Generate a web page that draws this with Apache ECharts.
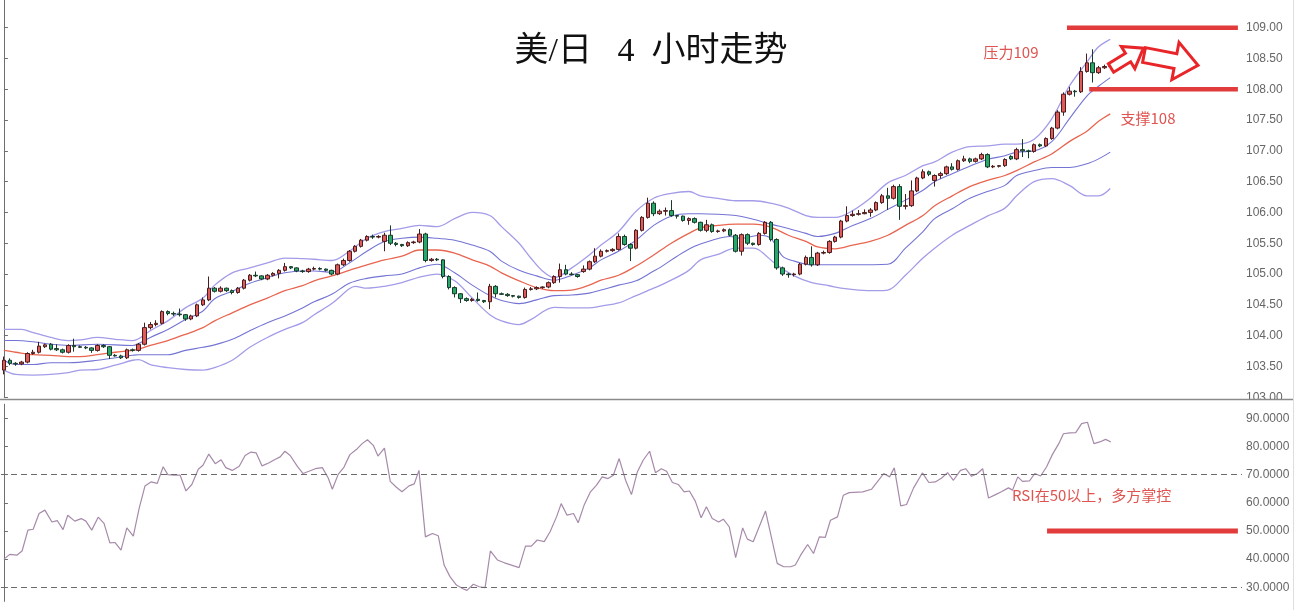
<!DOCTYPE html>
<html><head><meta charset="utf-8">
<script src="https://cdn.jsdelivr.net/npm/echarts@6/dist/echarts.min.js"></script>
<style>html,body{margin:0;padding:0;background:#fff}#c{width:1309px;height:610px}</style>
</head><body><div id="c"></div>
<script>
// ---------- data ----------
const SLOTS = 212;
const categories = Array.from({length: SLOTS}, (_, i) => 'K' + i);

const opens = [103.44,103.60,103.55,103.54,103.57,103.71,103.73,103.82,103.86,103.79,
103.77,103.73,103.84,103.82,103.81,103.80,103.76,103.84,103.82,103.68,
103.67,103.64,103.77,103.76,103.86,104.13,104.18,104.20,104.39,104.36,
104.35,104.34,104.27,104.32,104.50,104.58,104.77,104.72,104.77,104.73,
104.70,104.77,104.90,104.98,104.97,104.92,104.98,105.01,105.06,105.12,
105.10,105.05,105.04,105.08,105.09,105.08,105.06,105.00,105.15,105.22,
105.37,105.45,105.55,105.61,105.60,105.53,105.63,105.50,105.48,105.46,
105.51,105.52,105.65,105.22,105.24,105.23,104.96,104.78,104.68,104.60,
104.57,104.59,104.57,104.55,104.80,104.68,104.67,104.65,104.64,104.62,
104.75,104.76,104.78,104.79,104.86,104.96,105.07,105.00,104.99,105.04,
105.08,105.20,105.29,105.37,105.38,105.40,105.61,105.48,105.42,105.71,
105.92,106.15,105.98,106.02,106.03,105.95,105.94,105.87,105.90,105.84,
105.71,105.80,105.69,105.70,105.72,105.63,105.37,105.64,105.50,105.48,
105.66,105.84,105.56,105.10,105.00,104.99,105.00,105.16,105.27,105.15,
105.34,105.35,105.53,105.60,105.86,105.95,105.97,105.98,106.00,106.04,
106.16,106.27,106.23,106.42,106.10,106.11,106.35,106.56,106.66,106.52,
106.60,106.63,106.74,106.70,106.84,106.87,106.83,106.87,106.94,106.74,
106.75,106.76,106.91,106.87,107.02,107.00,106.99,107.10,107.08,107.20,
107.37,107.63,107.92,107.97,107.96,108.29,108.43,108.27,108.35,108.37];

const closes = [103.60,103.55,103.54,103.57,103.71,103.73,103.83,103.85,103.78,103.77,
103.73,103.84,103.82,103.81,103.80,103.76,103.84,103.82,103.68,103.67,
103.64,103.77,103.76,103.86,104.13,104.18,104.20,104.39,104.36,104.35,
104.34,104.27,104.32,104.50,104.58,104.77,104.72,104.77,104.73,104.70,
104.77,104.90,104.98,104.97,104.92,104.98,105.01,105.06,105.12,105.10,
105.05,105.04,105.08,105.09,105.08,105.06,105.00,105.15,105.22,105.37,
105.45,105.55,105.61,105.60,105.61,105.63,105.50,105.48,105.46,105.51,
105.52,105.65,105.22,105.24,105.23,104.96,104.78,104.68,104.60,104.57,
104.59,104.57,104.55,104.80,104.68,104.67,104.65,104.64,104.62,104.75,
104.76,104.78,104.79,104.86,104.96,105.07,105.00,104.99,104.96,105.08,
105.20,105.29,105.37,105.38,105.40,105.61,105.48,105.42,105.71,105.92,
106.15,105.98,106.02,106.03,105.95,105.94,105.87,105.90,105.84,105.71,
105.80,105.69,105.70,105.72,105.63,105.37,105.64,105.50,105.48,105.66,
105.84,105.56,105.10,105.00,104.99,105.00,105.16,105.27,105.15,105.34,
105.35,105.53,105.60,105.86,105.95,105.97,105.98,106.00,106.04,106.16,
106.27,106.23,106.42,106.10,106.11,106.35,106.56,106.66,106.62,106.60,
106.63,106.74,106.70,106.84,106.87,106.83,106.87,106.94,106.74,106.75,
106.76,106.86,106.87,107.02,107.00,106.99,107.10,107.08,107.20,107.37,
107.63,107.92,107.97,107.96,108.29,108.43,108.27,108.35,108.37,108.42];

const highs = [103.66,103.63,103.57,103.59,103.73,103.77,103.90,103.87,103.88,103.86,
103.79,103.86,103.95,103.84,103.83,103.81,103.86,103.86,103.83,103.70,
103.69,103.79,103.79,103.88,104.21,104.22,104.25,104.41,104.41,104.39,
104.44,104.35,104.34,104.52,104.62,104.96,104.79,104.80,104.78,104.75,
104.79,104.92,105.00,105.04,104.98,105.00,105.03,105.08,105.18,105.13,
105.11,105.07,105.10,105.12,105.11,105.09,105.07,105.17,105.25,105.39,
105.47,105.57,105.63,105.64,105.63,105.67,105.79,105.52,105.49,105.53,
105.54,105.73,105.67,105.26,105.26,105.24,104.98,104.80,104.69,104.62,
104.61,104.70,104.58,104.84,104.82,104.70,104.69,104.66,104.65,104.78,
104.79,104.80,104.80,104.88,104.98,105.17,105.15,105.03,105.00,105.14,
105.22,105.42,105.40,105.40,105.42,105.66,105.64,105.50,105.73,105.94,
106.24,106.18,106.05,106.08,106.20,105.96,105.95,105.92,105.92,105.85,
105.88,105.82,105.72,105.74,105.74,105.65,105.66,105.66,105.51,105.68,
105.86,105.86,105.58,105.12,105.02,105.02,105.18,105.30,105.45,105.36,
105.38,105.55,105.62,105.88,106.10,106.03,106.04,106.05,106.07,106.18,
106.30,106.40,106.45,106.46,106.30,106.52,106.58,106.70,106.68,106.62,
106.66,106.76,106.80,106.86,106.92,106.89,106.89,106.97,106.96,106.77,
106.77,106.88,106.93,107.05,107.19,107.02,107.12,107.12,107.22,107.39,
107.66,107.95,108.04,107.99,108.36,108.58,108.65,108.38,108.40,108.44];

const lows = [103.37,103.52,103.51,103.52,103.55,103.69,103.71,103.80,103.76,103.75,
103.71,103.71,103.74,103.80,103.78,103.72,103.74,103.80,103.62,103.66,
103.62,103.62,103.74,103.74,103.84,104.10,104.15,104.18,104.33,104.32,
104.31,104.24,104.25,104.30,104.48,104.56,104.70,104.70,104.71,104.67,
104.68,104.75,104.88,104.95,104.90,104.90,104.96,104.93,105.04,105.08,
105.03,105.02,105.02,105.06,105.06,105.04,104.98,104.98,105.13,105.20,
105.35,105.43,105.53,105.57,105.58,105.37,105.47,105.45,105.44,105.44,
105.49,105.50,105.19,105.20,105.21,104.93,104.75,104.62,104.53,104.55,
104.55,104.55,104.53,104.43,104.62,104.66,104.63,104.62,104.60,104.60,
104.73,104.74,104.76,104.77,104.84,104.86,104.98,104.98,104.94,105.02,
105.06,105.18,105.27,105.35,105.36,105.38,105.46,105.21,105.40,105.69,
105.90,105.94,105.96,105.95,105.93,105.90,105.85,105.80,105.82,105.69,
105.68,105.67,105.67,105.68,105.61,105.35,105.30,105.47,105.46,105.46,
105.64,105.53,105.07,104.97,104.94,104.96,104.98,105.14,105.12,105.13,
105.32,105.33,105.51,105.58,105.84,105.93,105.95,105.97,105.93,106.02,
106.14,106.04,106.21,105.88,106.05,106.09,106.33,106.54,106.59,106.42,
106.55,106.61,106.68,106.68,106.82,106.80,106.81,106.85,106.72,106.72,
106.73,106.74,106.85,106.85,106.90,106.88,106.97,107.06,107.06,107.18,
107.35,107.57,107.90,107.88,107.94,108.27,108.11,108.25,108.33,108.35];

// Bollinger-style bands: [candle index, price]
const bandUpperOuter = [[0,104.10],[3,104.10],[5,104.05],[8,103.97],[11,103.92],[13,103.93],[16,103.97],[19,103.94],[22,103.92],[23,103.95],[25,104.08],[28,104.24],[31,104.45],[34,104.61],[36,104.82],[39,105.02],[42,105.10],[45,105.18],[48,105.26],[51,105.25],[53,105.24],[56,105.22],[59,105.37],[62,105.58],[65,105.69],[68,105.74],[71,105.79],[74,105.77],[77,105.90],[80,106.00],[83,105.95],[85,105.77],[88,105.50],[90,105.26],[92,105.05],[94,104.94],[97,105.10],[100,105.31],[102,105.47],[105,105.69],[108,106.02],[111,106.23],[114,106.31],[117,106.34],[119,106.27],[122,106.23],[125,106.19],[128,106.19],[131,106.15],[134,106.07],[137,105.95],[139,105.92],[142,105.92],[145,106.03],[148,106.23],[151,106.48],[154,106.60],[157,106.76],[159,106.82],[162,106.98],[165,107.07],[168,107.08],[171,107.11],[173,107.11],[176,107.19],[179,107.52],[182,108.05],[185,108.44],[187,108.69],[189,108.81]];
const bandUpperInner = [[0,103.92],[2,103.92],[5,103.90],[8,103.86],[11,103.84],[16,103.86],[22,103.84],[23,103.87],[25,103.97],[28,104.10],[31,104.26],[34,104.40],[36,104.60],[39,104.72],[42,104.85],[45,104.94],[48,105.02],[51,105.05],[53,105.05],[56,105.03],[59,105.18],[62,105.37],[65,105.53],[68,105.58],[71,105.60],[74,105.58],[77,105.55],[80,105.47],[83,105.37],[85,105.21],[88,105.06],[91,104.97],[94,104.90],[97,104.98],[100,105.10],[102,105.23],[105,105.37],[108,105.55],[111,105.79],[114,105.94],[117,105.98],[119,105.98],[122,105.97],[125,105.95],[128,105.89],[131,105.81],[134,105.74],[137,105.66],[139,105.61],[142,105.66],[145,105.79],[148,105.90],[151,106.05],[154,106.20],[157,106.36],[159,106.50],[162,106.63],[165,106.75],[168,106.86],[171,106.92],[173,106.98],[176,107.00],[179,107.15],[182,107.52],[185,107.89],[187,108.05],[189,108.19]];
const bandMiddle = [[0,103.76],[2,103.73],[5,103.69],[8,103.68],[11,103.66],[13,103.66],[16,103.69],[19,103.73],[22,103.76],[23,103.78],[25,103.84],[28,103.92],[31,104.02],[34,104.13],[36,104.24],[39,104.37],[42,104.50],[45,104.61],[48,104.73],[51,104.81],[53,104.89],[56,104.97],[59,105.06],[62,105.15],[65,105.23],[68,105.29],[71,105.39],[74,105.39],[77,105.34],[80,105.23],[83,105.13],[85,105.02],[88,104.89],[91,104.78],[94,104.73],[97,104.74],[100,104.82],[102,104.90],[105,104.98],[108,105.13],[111,105.31],[114,105.50],[117,105.66],[119,105.75],[122,105.79],[125,105.81],[128,105.81],[131,105.76],[134,105.63],[137,105.53],[139,105.44],[142,105.41],[145,105.47],[148,105.53],[151,105.63],[154,105.79],[157,105.95],[159,106.11],[162,106.27],[165,106.42],[168,106.52],[171,106.60],[173,106.68],[176,106.82],[179,106.95],[182,107.15],[185,107.32],[187,107.48],[189,107.60]];
const bandLowerInner = [[0,103.60],[2,103.53],[5,103.53],[8,103.56],[11,103.56],[16,103.60],[22,103.68],[23,103.69],[25,103.69],[28,103.69],[31,103.76],[34,103.81],[36,103.85],[39,103.94],[42,104.08],[45,104.21],[48,104.32],[51,104.45],[53,104.55],[56,104.67],[59,104.85],[62,104.93],[65,104.97],[68,105.00],[71,105.10],[74,105.16],[77,105.02],[80,104.82],[83,104.65],[85,104.57],[88,104.52],[91,104.58],[94,104.65],[97,104.66],[100,104.69],[102,104.74],[105,104.82],[108,104.89],[111,105.05],[112,105.10],[115,105.29],[118,105.45],[121,105.55],[124,105.61],[126,105.58],[129,105.63],[131,105.58],[133,105.29],[135,105.21],[138,105.15],[141,105.15],[145,105.15],[151,105.16],[154,105.42],[157,105.69],[159,105.90],[162,106.06],[165,106.23],[168,106.34],[171,106.44],[173,106.60],[176,106.68],[179,106.73],[182,106.73],[185,106.79],[187,106.87],[189,106.98]];
const bandLowerOuter = [[0,103.44],[2,103.37],[5,103.36],[8,103.37],[11,103.40],[13,103.44],[16,103.45],[19,103.52],[22,103.60],[23,103.61],[25,103.53],[28,103.48],[31,103.45],[34,103.44],[36,103.48],[39,103.60],[42,103.81],[45,103.97],[48,104.10],[51,104.21],[53,104.34],[56,104.52],[59,104.76],[60,104.80],[62,104.77],[65,104.80],[68,104.86],[71,104.95],[74,105.00],[77,104.89],[80,104.61],[83,104.34],[85,104.24],[88,104.18],[90,104.26],[94,104.46],[97,104.45],[100,104.45],[102,104.48],[105,104.53],[108,104.65],[111,104.77],[114,104.90],[117,105.06],[119,105.23],[122,105.32],[125,105.42],[128,105.42],[129,105.39],[132,105.15],[135,104.97],[138,104.86],[141,104.81],[143,104.77],[146,104.74],[149,104.73],[151,104.74],[154,104.98],[157,105.26],[159,105.42],[162,105.63],[165,105.79],[168,105.94],[171,106.07],[173,106.27],[176,106.50],[179,106.55],[182,106.44],[185,106.27],[187,106.27],[189,106.39]];

// RSI: [candle index, value]
const rsiPoints = [[0,40],[1.0,41.7],[2.2,41.4],[3.1,42.9],[4.1,50.3],[5.0,50.6],[6.0,56.2],[7.0,57.4],[8.2,53.2],[9.1,53.7],[10.1,50.5],[10.9,55.6],[12.1,53.5],[13.2,54.4],[14.0,53.5],[15.0,50.3],[16.1,54.9],[17.1,52.7],[18.1,45.8],[19.0,45.9],[20.0,43.2],[21.0,51.1],[22.1,48.2],[23.1,58.0],[24.1,66.0],[25.1,67.4],[26.2,66.9],[27.2,72.8],[28.0,70.0],[29.1,69.8],[30.1,69.8],[31.1,64.2],[32.1,66.5],[33.2,71.9],[34.0,73.3],[35.0,77.3],[36.1,73.9],[37.1,75.3],[37.9,72.5],[39.0,71.5],[40.2,73.0],[41.2,76.8],[42.2,78.0],[43.1,77.7],[44.1,73.1],[45.3,74.2],[46.3,75.4],[47.2,76.3],[48.0,78.3],[48.9,76.8],[50.1,73.0],[51.1,70.4],[52.1,71.2],[53.2,72.1],[54.4,72.5],[55.4,68.8],[56.1,64.8],[57.1,70.1],[58.1,72.7],[59.1,77.1],[60.2,78.9],[61.2,81.0],[62.1,82.4],[63.1,80.4],[63.9,76.6],[65.0,79.4],[66.0,67.6],[67.0,65.6],[68.0,63.9],[69.2,66.0],[70.1,66.7],[70.9,71.5],[72.0,47.9],[73.2,49.1],[74.2,48.3],[75.2,37.9],[76.2,33.8],[77.3,30.8],[78.5,29.4],[79.1,28.9],[80.2,31.1],[81.2,30.2],[82.2,29.9],[83.1,42.9],[84.3,39.7],[85.5,38.7],[86.7,37.9],[88.0,37.0],[89.1,44.6],[90.1,44.6],[91.1,46.8],[92.3,46.2],[93.3,49.7],[94.4,55.0],[95.2,59.7],[96.2,55.6],[97.3,56.2],[98.1,52.9],[99.1,59.1],[100.2,63.9],[101.2,66.2],[102.2,69.2],[103.2,68.6],[104.1,69.8],[105.1,75.7],[106.2,68.0],[107.2,62.9],[108.2,70.9],[109.2,75.1],[110.3,78.3],[111.3,70.7],[112.3,72.1],[113.2,71.2],[114.2,67.2],[115.2,66.5],[116.2,63.9],[117.1,64.2],[118.1,60.6],[119.1,54.7],[120.0,58.6],[121.0,54.4],[122.1,53.2],[122.9,54.2],[123.9,51.5],[125.0,40.5],[126.2,51.1],[127.0,47.1],[128.0,46.2],[130.1,57.1],[132.1,38.5],[133.2,37.3],[134.4,37.3],[135.2,37.9],[136.1,41.4],[137.3,45.2],[138.3,42.0],[139.3,47.9],[140.3,47.7],[141.2,53.8],[142.4,55.0],[143.4,62.7],[144.4,63.6],[146.7,63.9],[148.2,64.8],[149.2,67.4],[150.3,70.4],[151.3,69.2],[152.1,72.4],[153.2,58.9],[154.2,59.4],[155.4,65.3],[156.9,70.6],[158.0,67.2],[159.1,67.4],[160.2,68.8],[161.2,70.7],[162.2,68.0],[163.4,71.5],[164.3,72.1],[165.3,69.4],[166.3,70.4],[167.2,72.1],[168.2,61.7],[169.4,62.9],[170.4,63.9],[171.6,65.3],[172.3,64.5],[173.2,69.2],[174.0,67.6],[175.2,67.8],[176.1,70.4],[177.1,69.5],[178.1,72.7],[179.1,77.1],[180.2,81.0],[181.0,84.5],[182.1,84.8],[183.1,84.9],[184.1,88.1],[185.1,88.6],[186.2,81.0],[187.2,81.6],[188.2,82.5],[189.1,81.6]];

const priceTicks = [103,103.5,104,104.5,105,105.5,106,106.5,107,107.5,108,108.5,109];
const rsiTicks = [30,40,50,60,70,80,90];
const rsiGuides = [70,30];

// annotation levels: [candle index, value]
const resistanceLine = [[181.6,109],[210.8,109]];
const supportLine = [[185.4,108],[210.8,108]];
const rsi50Line = [[178.2,50],[210.8,50]];

const title = '美/日   4  小时走势';
const noteResist = '压力109';
const noteSupport = '支撑108';
const noteRsi = 'RSI在50以上，多方掌控';

// ---------- chart ----------
const candleData = opens.map((o, i) => [o, closes[i], lows[i], highs[i]]);
const chart = echarts.init(document.getElementById('c'), null, {renderer: 'canvas'});
const RED = '#e23b3b';
const NOTE = '#df5450';
const axisLabelFont = {color: '#666', fontSize: 12, fontFamily: 'Liberation Sans'};

function arrow(x, y, rot, L, L1, t, h) {
  return {
    type: 'polygon', x: x, y: y, rotation: rot, z: 100,
    shape: {points: [[0,-t],[L1,-t],[L1,-h],[L,0],[L1,h],[L1,t],[0,t]]},
    style: {fill: '#fff', stroke: '#e8262a', lineWidth: 3, lineJoin: 'miter'}
  };
}

const bandLine = (name, data, color, w) => ({
  name, type: 'line', xAxisIndex: 1, yAxisIndex: 0, data, showSymbol: false,
  smooth: 0.35, z: 2, lineStyle: {color, width: w}, silent: true
});

chart.setOption({
  animation: false,
  backgroundColor: '#fff',
  grid: [
    {left: 1, right: 67, top: 0, height: 397.2},
    {left: 1, right: 67, top: 404.2, height: 197.2}
  ],
  xAxis: [
    {type: 'category', gridIndex: 0, data: categories, show: false, boundaryGap: true},
    {type: 'value', gridIndex: 0, min: -0.5, max: SLOTS - 0.5, show: false},
    {type: 'value', gridIndex: 1, min: -0.5, max: SLOTS - 0.5, show: false}
  ],
  yAxis: [
    {type: 'value', gridIndex: 0, position: 'right', min: 103, max: 109.45, interval: 0.05,
     axisLine: {show: true, lineStyle: {color: '#6f6f6f', width: 1}},
     axisTick: {show: true, length: 4, customValues: priceTicks, lineStyle: {color: '#6f6f6f'}},
     axisLabel: Object.assign({margin: 4, customValues: priceTicks, formatter: v => v.toFixed(2)}, axisLabelFont),
     splitLine: {show: false}},
    {type: 'value', gridIndex: 1, position: 'right', min: 25, max: 95, interval: 5,
     axisLine: {show: true, lineStyle: {color: '#6f6f6f', width: 1}},
     axisTick: {show: true, length: 4, customValues: rsiTicks, lineStyle: {color: '#6f6f6f'}},
     axisLabel: Object.assign({margin: 4, customValues: rsiTicks, formatter: v => v.toFixed(4)}, axisLabelFont),
     splitLine: {show: false}}
  ],
  series: [
    bandLine('upperOuter', bandUpperOuter, '#a39ce8', 1.3),
    bandLine('lowerOuter', bandLowerOuter, '#a39ce8', 1.3),
    bandLine('upperInner', bandUpperInner, '#7474d4', 1.1),
    bandLine('lowerInner', bandLowerInner, '#7474d4', 1.1),
    bandLine('middle', bandMiddle, '#e8654f', 1.3),
    {type: 'candlestick', xAxisIndex: 0, yAxisIndex: 0, data: candleData, barWidth: 4, z: 5,
     itemStyle: {color: '#e05a5a', color0: '#27a86b', borderColor: '#4a1d1d', borderColor0: '#183a29', borderWidth: 1}},
    {type: 'line', xAxisIndex: 1, yAxisIndex: 0, data: resistanceLine, showSymbol: false, z: 6,
     lineStyle: {color: RED, width: 4.5}},
    {type: 'line', xAxisIndex: 1, yAxisIndex: 0, data: supportLine, showSymbol: false, z: 6,
     lineStyle: {color: RED, width: 4.5}},
    {type: 'line', xAxisIndex: 2, yAxisIndex: 1, data: rsiPoints, showSymbol: false, z: 3,
     lineStyle: {color: '#a68aa9', width: 1.2},
     markLine: {silent: true, symbol: 'none', label: {show: false},
       lineStyle: {color: '#6a6a6a', type: [6, 4], width: 1},
       data: rsiGuides.map(v => ({yAxis: v}))}},
    {type: 'line', xAxisIndex: 2, yAxisIndex: 1, data: rsi50Line, showSymbol: false, z: 6,
     lineStyle: {color: RED, width: 5}}
  ],
  graphic: [
    {type: 'rect', shape: {x: 1244, y: 400, width: 48, height: 6}, style: {fill: '#fff'}, z: 90},
    {type: 'line', shape: {x1: 0, y1: 399.5, x2: 1293, y2: 399.5}, style: {stroke: '#8a8a8a', lineWidth: 1.5}, z: 95},
    {type: 'line', shape: {x1: 1293.5, y1: 0, x2: 1293.5, y2: 610}, style: {stroke: '#dedede', lineWidth: 1}, z: 50},
    {type: 'text', x: 651, y: 52, z: 100,
     style: {text: title, fill: '#111', font: '34px "Liberation Serif", "Noto Sans CJK SC"', textAlign: 'center', textVerticalAlign: 'middle'}},
    {type: 'text', x: 1011, y: 52, z: 100,
     style: {text: noteResist, fill: NOTE, font: '15px "Noto Sans CJK SC"', textAlign: 'center', textVerticalAlign: 'middle'}},
    {type: 'text', x: 1148, y: 118, z: 100,
     style: {text: noteSupport, fill: NOTE, font: '15px "Noto Sans CJK SC"', textAlign: 'center', textVerticalAlign: 'middle'}},
    {type: 'text', x: 1012, y: 495, z: 100,
     style: {text: noteRsi, fill: NOTE, font: '15px "Noto Sans CJK SC"', textAlign: 'left', textVerticalAlign: 'middle'}},
    arrow(1111, 68, 0.55, 38, 20, 5, 13),
    arrow(1144, 55, -0.19, 55, 32, 7.5, 19)
  ]
});
</script>
</body></html>
